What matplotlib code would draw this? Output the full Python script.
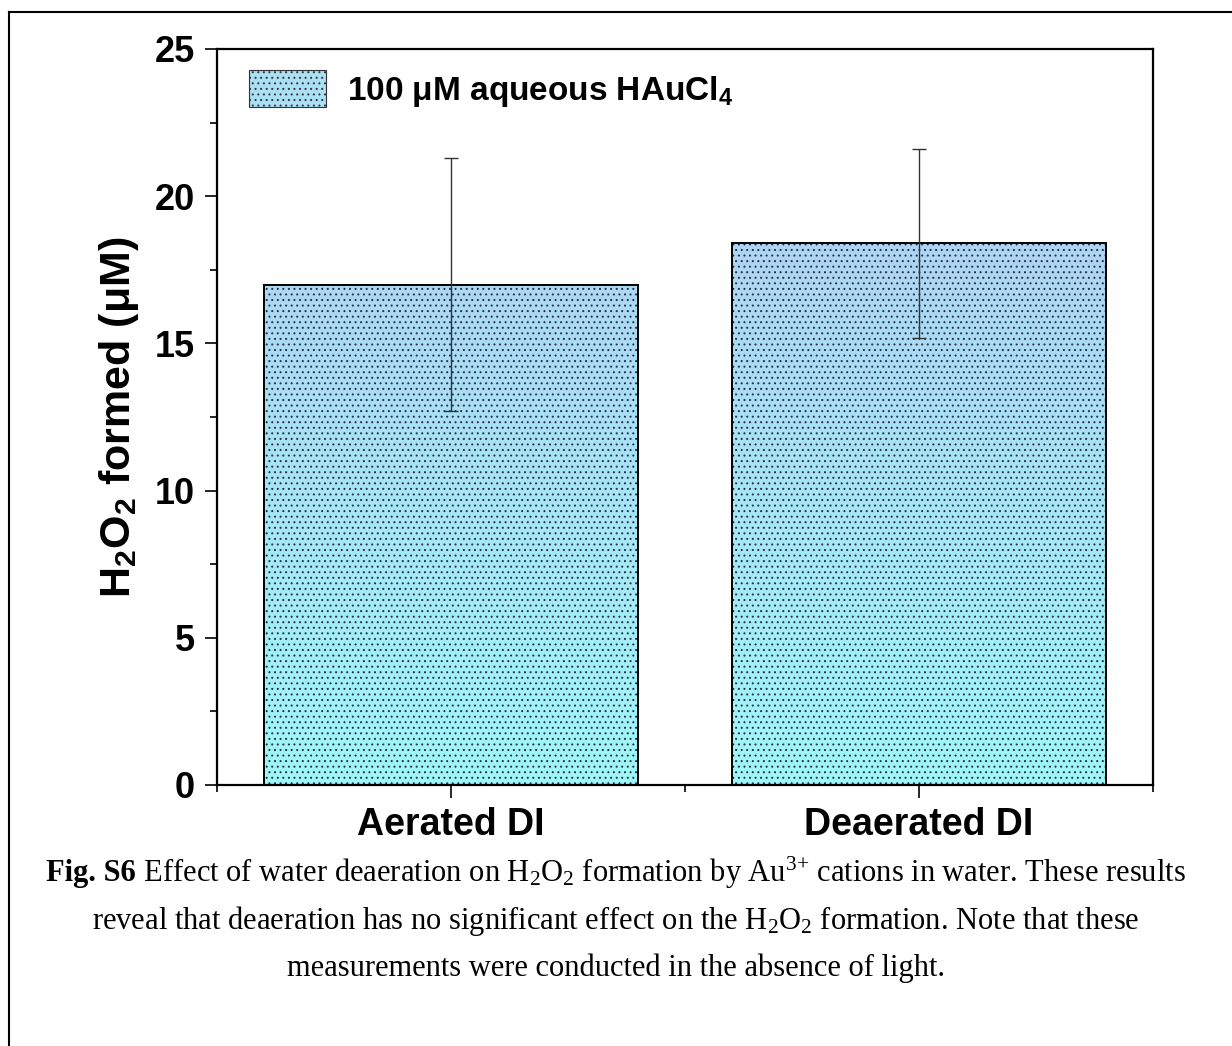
import numpy as np
import matplotlib
matplotlib.use("Agg")
import matplotlib.pyplot as plt
from matplotlib.colors import LinearSegmentedColormap
from matplotlib.lines import Line2D
from matplotlib.patches import Patch

# ---- data ----
categories = ["Aerated DI", "Deaerated DI"]
values = [17.0, 18.4]
err_low = [4.3, 3.2]
err_high = [4.3, 3.2]
yticks = [0, 5, 10, 15, 20, 25]
legend_label = "100 μM aqueous HAuCl$_4$"
ylabel = "H$_2$O$_2$ formed (μM)"

plt.rcParams['mathtext.default'] = 'regular'
plt.rcParams['hatch.linewidth'] = 0.7
sans = ['Liberation Sans', 'DejaVu Sans']
serif = ['Liberation Serif', 'DejaVu Serif']

W, H = 1232, 1046
fig = plt.figure(figsize=(W / 100, H / 100), dpi=100)
ax = fig.add_axes([217 / W, 1 - 785 / H, (1153 - 217) / W, (785 - 49) / H])

bottom_col = "#9ff7f7"
top_col = "#b4c8f2"
dot_col = "#22304a"
cmap = LinearSegmentedColormap.from_list("grad", [bottom_col, top_col])
grad = np.linspace(0, 1, 256).reshape(-1, 1)

x = np.arange(len(categories))
bars = ax.bar(x, values, width=0.8, facecolor='none', edgecolor=dot_col,
              hatch='...', linewidth=0, zorder=2)
for b in bars:
    im = ax.imshow(grad, extent=[-0.5, 1.5, 0, 25], origin='lower',
                   aspect='auto', cmap=cmap, zorder=1, interpolation='bilinear')
    im.set_clip_path(b)
ax.bar(x, values, width=0.8, fill=False, edgecolor='black', linewidth=1.4, zorder=3)
ax.errorbar(x, values, yerr=[err_low, err_high], fmt='none', ecolor='#333333',
            elinewidth=1.0, capsize=5, capthick=1.0, zorder=4)

ax.set_xlim(-0.5, 1.5)
ax.set_ylim(0, 25)
ax.set_yticks(yticks)
ax.set_yticks(np.arange(2.5, 25, 5), minor=True)
ax.set_xticks(x)
ax.set_xticks([-0.5, 0.5, 1.5], minor=True)
ax.set_xticklabels(categories, fontfamily=sans, fontweight='bold', fontsize=27)
for lab in ax.get_yticklabels():
    lab.set_fontfamily(sans)
    lab.set_fontweight('bold')
    lab.set_fontsize(26)
ax.tick_params(axis='both', which='major', direction='out', length=9, width=1.2, pad=7)
ax.tick_params(axis='both', which='minor', direction='out', length=5, width=1.2)
ax.tick_params(top=False, right=False, which='both')
for s in ax.spines.values():
    s.set_linewidth(1.6)

ax.set_ylabel(ylabel, fontfamily=sans, fontweight='bold', fontsize=31, labelpad=10)

handle = Patch(facecolor="#aadff4", edgecolor=dot_col, hatch='...', linewidth=0)
leg = ax.legend([handle], [legend_label], loc='upper left', frameon=False,
                prop={'family': sans, 'weight': 'bold', 'size': 24},
                handlelength=2.3, handleheight=1.35, handletextpad=0.65,
                borderaxespad=0.0, borderpad=0.0,
                bbox_to_anchor=((249 - 217) / (1153 - 217), 1 - (70 - 49) / (785 - 49)))
for p in leg.get_patches():
    p.set_edgecolor('#333333')
    p.set_linewidth(0.8)

# page border (top and left)
fig.add_artist(Line2D([9 / W, 1], [1 - 12 / H, 1 - 12 / H], transform=fig.transFigure,
                      color='black', lw=1.5))
fig.add_artist(Line2D([9 / W, 9 / W], [0, 1 - 12 / H], transform=fig.transFigure,
                      color='black', lw=1.5))

# caption
cap_size = 22
fig.canvas.draw()
r = fig.canvas.get_renderer()
t1a = fig.text(0, 1 - 873 / H, "Fig. S6", fontfamily=serif, fontweight='bold',
               fontsize=cap_size, va='center', ha='left')
t1b = fig.text(0, 1 - 873 / H,
               " Effect of water deaeration on H$_2$O$_2$ formation by Au$^{3{+}}$ cations in water. These results",
               fontfamily=serif, fontsize=cap_size, va='center', ha='left')
wa = t1a.get_window_extent(r).width
wb = t1b.get_window_extent(r).width
x0 = 616 - (wa + wb) / 2
t1a.set_x(x0 / W)
t1b.set_x((x0 + wa) / W)
fig.text(616 / W, 1 - 921 / H,
         "reveal that deaeration has no significant effect on the H$_2$O$_2$ formation. Note that these",
         fontfamily=serif, fontsize=cap_size, va='center', ha='center')
fig.text(616 / W, 1 - 968 / H, "measurements were conducted in the absence of light.",
         fontfamily=serif, fontsize=cap_size, va='center', ha='center')

fig.savefig("out.png", dpi=100)
